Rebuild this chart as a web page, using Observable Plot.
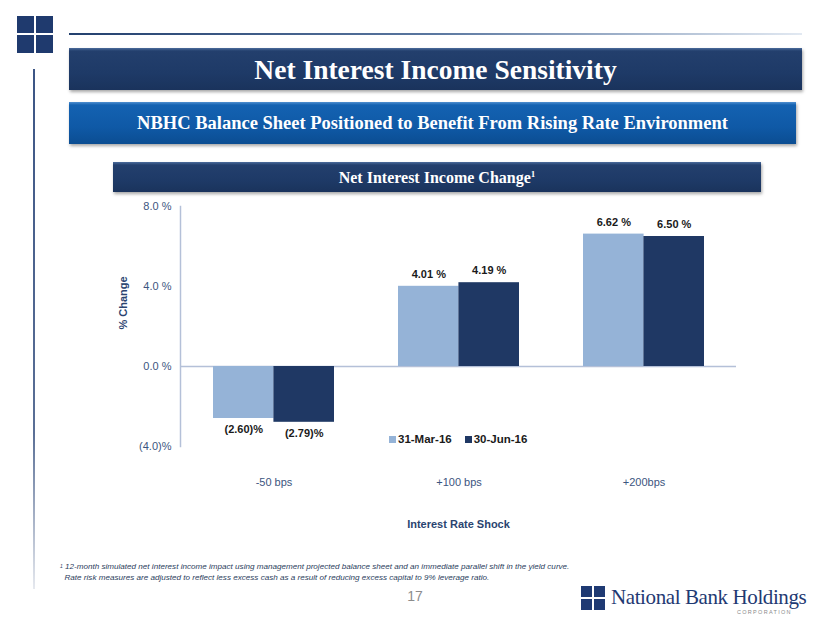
<!DOCTYPE html>
<html>
<head>
<meta charset="utf-8">
<script src="https://cdn.jsdelivr.net/npm/d3@7"></script>
<script src="https://cdn.jsdelivr.net/npm/@observablehq/plot@0.6"></script>
<style>
  html, body { margin: 0; padding: 0; background: #fff; }
  #page { position: relative; width: 830px; height: 623px; overflow: hidden; font-family: "Liberation Sans", Arial, sans-serif; }
  .abs { position: absolute; }
  .sq { position: absolute; background: #1f3a6e; }
  .box { position: absolute; color: #fff; font-family: "Liberation Serif", "Times New Roman", serif; font-weight: bold; text-align: center; box-shadow: 1px 2px 3px rgba(0,0,0,0.35); white-space: nowrap; }
  #title { left: 69px; top: 48px; width: 733px; height: 42px; line-height: 43px; font-size: 27.5px;
    background: linear-gradient(to bottom, #4b6c9c 0px, #233f6d 3px, #1e3a67 60%, #1a335c 100%); }
  #sub { left: 69px; top: 102px; width: 727px; height: 42px; line-height: 43px; font-size: 18.5px;
    background: linear-gradient(to bottom, #4f8fd0 0px, #1462b1 3px, #0f59a6 60%, #0b4d92 100%); }
  #box3 { left: 113px; top: 162px; width: 648px; height: 30px; line-height: 31px; font-size: 16px;
    background: linear-gradient(to bottom, #4b6c9c 0px, #233f6d 3px, #1e3a67 60%, #1a335c 100%); }
  #box3 sup { font-size: 9px; vertical-align: top; position: relative; top: -3px; }
  #chart { position: absolute; left: 0; top: 190px; }
  #legend { position: absolute; top: 433px; left: 389px; font-size: 11.5px; font-weight: bold; color: #1a1a1a; white-space: nowrap; }
  #legend span.sw { display: inline-block; width: 7px; height: 7px; margin-right: 2px; vertical-align: 0px; }
  #legend span.it { margin-right: 13px; }
  #foot { position: absolute; left: 60px; top: 561px; font-size: 8.1px; font-style: italic; color: #2b3d5c; line-height: 11px; white-space: nowrap; }
  #pnum { position: absolute; left: 404px; top: 588px; width: 22px; text-align: center; font-size: 14px; color: #8c8c8c; }
  #nbh { position: absolute; left: 611px; top: 585px; font-family: "Liberation Serif", "Times New Roman", serif; font-size: 21px; color: #1f3a73; letter-spacing: -0.4px; white-space: nowrap; }
  #corp { position: absolute; left: 737px; top: 609px; font-size: 5.5px; color: #8a8a8a; letter-spacing: 1.3px; }
</style>
</head>
<body>
<div id="page">
  <div class="sq" style="left:17px;top:16px;width:17px;height:17px"></div>
  <div class="sq" style="left:36px;top:16px;width:17px;height:17px"></div>
  <div class="sq" style="left:17px;top:35px;width:17px;height:18px"></div>
  <div class="sq" style="left:36px;top:35px;width:17px;height:18px"></div>
  <div class="abs" style="left:69px;top:33px;width:733px;height:2px;background:linear-gradient(to right,#23406e,#5a77a0 50%,#e2e9f2)"></div>
  <div class="abs" style="left:33px;top:69px;width:2px;height:520px;background:linear-gradient(to bottom,#3c5585,#5a6f96 70%,#e6e9ef)"></div>
  <div id="title" class="box">Net Interest Income Sensitivity</div>
  <div id="sub" class="box">NBHC Balance Sheet Positioned to Benefit From Rising Rate Environment</div>
  <div id="box3" class="box">Net Interest Income Change<sup>1</sup></div>
  <div id="chart"></div>
  <div id="legend"></div>
  <div id="foot"><sup style="font-size:5px;vertical-align:top">1</sup> 12-month simulated net interest income impact using management projected balance sheet and an immediate parallel shift in the yield curve.<br>&nbsp;&nbsp;Rate risk measures are adjusted to reflect less excess cash as a result of reducing excess capital to 9% leverage ratio.</div>
  <div id="pnum">17</div>
  <div class="sq" style="left:581px;top:586px;width:11px;height:11px;background:#1f3a73"></div>
  <div class="sq" style="left:594px;top:586px;width:11px;height:11px;background:#1f3a73"></div>
  <div class="sq" style="left:581px;top:599px;width:11px;height:11px;background:#1f3a73"></div>
  <div class="sq" style="left:594px;top:599px;width:11px;height:11px;background:#1f3a73"></div>
  <div id="nbh">National Bank Holdings</div>
  <div id="corp">CORPORATION</div>
</div>
<script>
// ---- data ----
const categories = ["-50 bps", "+100 bps", "+200bps"];
const seriesNames = ["31-Mar-16", "30-Jun-16"];
const mar16 = [-2.60, 4.01, 6.62];
const jun16 = [-2.79, 4.19, 6.50];
const yTicks = [-4, 0, 4, 8];
const seriesColors = ["#95b3d7", "#1f3864"];

const rows = [];
categories.forEach((c, i) => {
  rows.push({cat: c, series: seriesNames[0], value: mar16[i]});
  rows.push({cat: c, series: seriesNames[1], value: jun16[i]});
});

const W = 830, H = 350;
const mL = 180, mR = 94, mT = 16, mB = 94;
const padInner = 0.348, padOuter = 0.174;
const bw = d3.scaleBand().domain(categories).range([mL, W - mR]).paddingInner(padInner).paddingOuter(padOuter).bandwidth();

const fmt = v => v < 0 ? `(${Math.abs(v).toFixed(2)})%` : `${v.toFixed(2)} %`;
const yfmt = v => v < 0 ? `(${Math.abs(v).toFixed(1)})%` : `${v.toFixed(1)} %`;

const A = rows.filter(d => d.series === seriesNames[0]);
const B = rows.filter(d => d.series === seriesNames[1]);
const font = "Liberation Sans, Arial, sans-serif";

function labels(data, side) {
  const common = {x: "cat", y: "value", text: d => fmt(d.value), fontWeight: "bold", fill: "#1a1a1a", fontSize: 11, lineAnchor: "middle", dx: side * bw / 4};
  return [
    Plot.text(data.filter(d => d.value >= 0), {...common, dy: -12}),
    Plot.text(data.filter(d => d.value < 0), {...common, dy: 11})
  ];
}

const plot = Plot.plot({
  width: W, height: H,
  marginLeft: mL, marginRight: mR, marginTop: mT, marginBottom: mB,
  style: {fontFamily: font, fontSize: "11px", background: "transparent", overflow: "visible"},
  x: {type: "band", domain: categories, paddingInner: padInner, paddingOuter: padOuter},
  y: {domain: [-4, 8]},
  marks: [
    Plot.ruleY([0], {stroke: "#b4c0d8", strokeWidth: 1.5}),
    Plot.barY(A, {x: "cat", y: "value", fill: seriesColors[0], insetRight: bw / 2}),
    Plot.barY(B, {x: "cat", y: "value", fill: seriesColors[1], insetLeft: bw / 2}),
    Plot.frame({anchor: "left", stroke: "#b4c0d8", strokeWidth: 1.5}),
    ...labels(A, -1),
    ...labels(B, 1),
    Plot.axisY({ticks: yTicks, tickFormat: yfmt, tickSize: 0, tickPadding: 9, label: null, fill: "#3c5580", fontSize: 11}),
    Plot.axisX({tickSize: 0, tickPadding: 32, label: null, fill: "#3c5580", fontSize: 11}),
    Plot.text(["% Change"], {frameAnchor: "left", dx: -57, dy: 3, rotate: -90, fontWeight: "bold", fill: "#2a4470", fontSize: 11}),
    Plot.text(["Interest Rate Shock"], {frameAnchor: "bottom", dy: 81, fontWeight: "bold", fill: "#2a4470", fontSize: 11})
  ]
});
document.getElementById("chart").appendChild(plot);

const legend = document.getElementById("legend");
seriesNames.forEach((name, i) => {
  const item = document.createElement("span");
  item.className = "it";
  const sw = document.createElement("span");
  sw.className = "sw";
  sw.style.background = seriesColors[i];
  item.appendChild(sw);
  item.appendChild(document.createTextNode(name));
  legend.appendChild(item);
});
</script>
</body>
</html>
